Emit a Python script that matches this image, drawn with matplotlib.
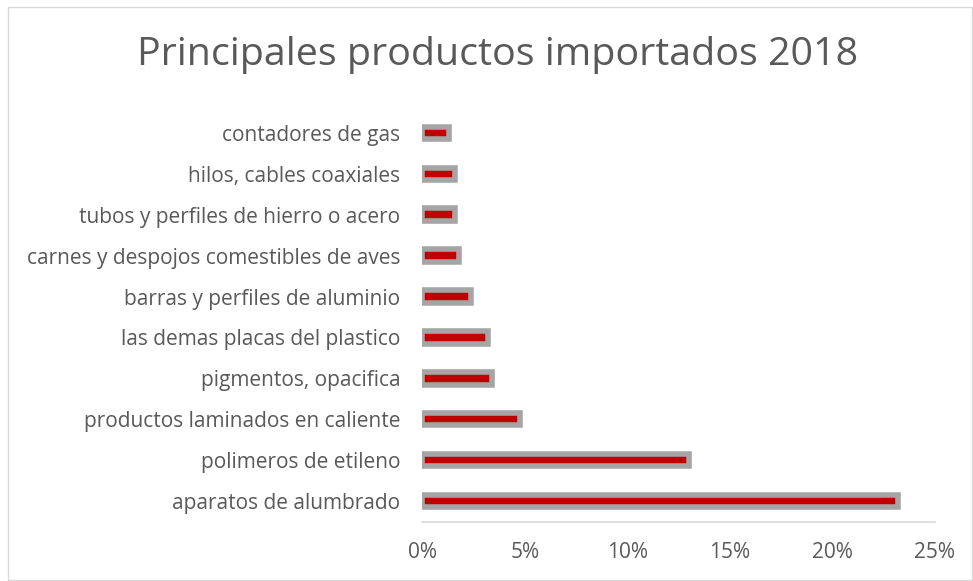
import matplotlib.pyplot as plt
from matplotlib.patches import Rectangle
from matplotlib.ticker import PercentFormatter

# categorias, de abajo hacia arriba
productos = ["aparatos de alumbrado",
             "polimeros de etileno",
             "productos laminados en caliente",
             "pigmentos, opacifica",
             "las demas placas del plastico",
             "barras y perfiles de aluminio",
             "carnes y despojos comestibles de aves",
             "tubos y perfiles de hierro o acero",
             "hilos, cables coaxiales",
             "contadores de gas"]
participacion = [0.232, 0.130, 0.0477, 0.034, 0.032, 0.0239, 0.0178, 0.0158, 0.016, 0.0127]
xticks = [0, 0.05, 0.10, 0.15, 0.20, 0.25]

plt.rcParams['font.family'] = ['Open Sans', 'DejaVu Sans']
gris_txt = "#595959"

fig = plt.figure(figsize=(9.73, 5.81), dpi=100)
ax = fig.add_axes([0.4342, 0.1024, 0.5267, 0.704])

ax.barh(range(len(productos)), participacion, height=0.305,
        color="#c00000", edgecolor="#a5a5a5", linewidth=4)

ax.set_xlim(0, 0.25)
ax.set_ylim(-0.5, len(productos) - 0.5)
ax.set_xticks(xticks)
ax.xaxis.set_major_formatter(PercentFormatter(1.0, decimals=0))
ax.set_yticks(range(len(productos)))
ax.set_yticklabels(productos)
ax.tick_params(axis="both", length=0, labelsize=15, labelcolor=gris_txt)
ax.tick_params(axis="x", pad=15)
ax.tick_params(axis="y", pad=16)

for s in ["top", "right", "left"]:
    ax.spines[s].set_visible(False)
ax.spines["bottom"].set_color("#d9d9d9")
ax.spines["bottom"].set_linewidth(1.2)

fig.text(0.511, 0.905, "Principales productos importados 2018",
         ha="center", va="center", fontsize=28.4, color=gris_txt)

# marco del grafico
fig.patches.append(Rectangle((8 / 973, 1 / 581), 964 / 973, 573 / 581,
                             transform=fig.transFigure, fill=False,
                             edgecolor="#d9d9d9", linewidth=1))

fig.savefig("out.png", dpi=100)
